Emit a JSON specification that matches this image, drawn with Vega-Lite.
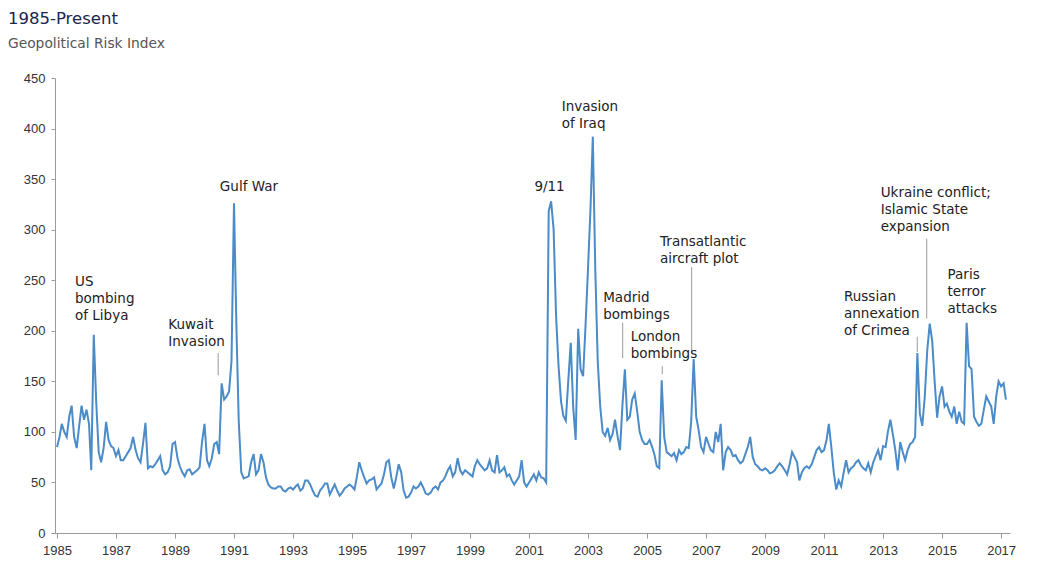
{
  "$schema": "https://vega.github.io/schema/vega-lite/v6.json",
  "width": 955,
  "height": 455,
  "autosize": {"type": "none"},
  "padding": {"left": 55, "top": 78, "right": 28, "bottom": 32},
  "background": "white",
  "title": {
    "text": "1985-Present",
    "subtitle": "Geopolitical Risk Index",
    "anchor": "start",
    "frame": "group",
    "dx": -47,
    "offset": 21,
    "font": "DejaVu Sans",
    "fontSize": 16.5,
    "fontWeight": "normal",
    "color": "#1a2550",
    "subtitleFont": "DejaVu Sans",
    "subtitleFontSize": 13.8,
    "subtitleColor": "#555555",
    "subtitlePadding": 10
  },
  "config": {
    "view": {"stroke": null},
    "axis": {
      "labelFont": "Liberation Sans Narrow, Liberation Sans",
      "labelFontSize": 13,
      "labelColor": "#333333",
      "domainColor": "#9a9a9a",
      "tickColor": "#9a9a9a",
      "grid": false,
      "title": null
    }
  },
  "datasets": {
    "gpr": [
      {"date":"1985-01-01","gpr":85},{"date":"1985-02-01","gpr":95},{"date":"1985-03-01","gpr":108},{"date":"1985-04-01","gpr":100},{"date":"1985-05-01","gpr":95},{"date":"1985-06-01","gpr":115},{"date":"1985-07-01","gpr":126},{"date":"1985-08-01","gpr":95},{"date":"1985-09-01","gpr":84},{"date":"1985-10-01","gpr":105},{"date":"1985-11-01","gpr":126},{"date":"1985-12-01","gpr":112},
      {"date":"1986-01-01","gpr":122},{"date":"1986-02-01","gpr":108},{"date":"1986-03-01","gpr":62},{"date":"1986-04-01","gpr":196},{"date":"1986-05-01","gpr":130},{"date":"1986-06-01","gpr":80},{"date":"1986-07-01","gpr":70},{"date":"1986-08-01","gpr":84},{"date":"1986-09-01","gpr":110},{"date":"1986-10-01","gpr":92},{"date":"1986-11-01","gpr":86},{"date":"1986-12-01","gpr":84},
      {"date":"1987-01-01","gpr":76},{"date":"1987-02-01","gpr":82},{"date":"1987-03-01","gpr":72},{"date":"1987-04-01","gpr":72},{"date":"1987-05-01","gpr":76},{"date":"1987-06-01","gpr":80},{"date":"1987-07-01","gpr":84},{"date":"1987-08-01","gpr":95},{"date":"1987-09-01","gpr":82},{"date":"1987-10-01","gpr":74},{"date":"1987-11-01","gpr":70},{"date":"1987-12-01","gpr":88},
      {"date":"1988-01-01","gpr":109},{"date":"1988-02-01","gpr":64},{"date":"1988-03-01","gpr":66},{"date":"1988-04-01","gpr":65},{"date":"1988-05-01","gpr":68},{"date":"1988-06-01","gpr":72},{"date":"1988-07-01","gpr":76},{"date":"1988-08-01","gpr":62},{"date":"1988-09-01","gpr":58},{"date":"1988-10-01","gpr":60},{"date":"1988-11-01","gpr":66},{"date":"1988-12-01","gpr":88},
      {"date":"1989-01-01","gpr":90},{"date":"1989-02-01","gpr":74},{"date":"1989-03-01","gpr":66},{"date":"1989-04-01","gpr":60},{"date":"1989-05-01","gpr":56},{"date":"1989-06-01","gpr":62},{"date":"1989-07-01","gpr":63},{"date":"1989-08-01","gpr":58},{"date":"1989-09-01","gpr":60},{"date":"1989-10-01","gpr":62},{"date":"1989-11-01","gpr":65},{"date":"1989-12-01","gpr":90},
      {"date":"1990-01-01","gpr":108},{"date":"1990-02-01","gpr":72},{"date":"1990-03-01","gpr":66},{"date":"1990-04-01","gpr":74},{"date":"1990-05-01","gpr":88},{"date":"1990-06-01","gpr":90},{"date":"1990-07-01","gpr":78},{"date":"1990-08-01","gpr":148},{"date":"1990-09-01","gpr":132},{"date":"1990-10-01","gpr":135},{"date":"1990-11-01","gpr":140},{"date":"1990-12-01","gpr":170},
      {"date":"1991-01-01","gpr":326},{"date":"1991-02-01","gpr":200},{"date":"1991-03-01","gpr":110},{"date":"1991-04-01","gpr":60},{"date":"1991-05-01","gpr":54},{"date":"1991-06-01","gpr":55},{"date":"1991-07-01","gpr":56},{"date":"1991-08-01","gpr":70},{"date":"1991-09-01","gpr":78},{"date":"1991-10-01","gpr":58},{"date":"1991-11-01","gpr":62},{"date":"1991-12-01","gpr":78},
      {"date":"1992-01-01","gpr":70},{"date":"1992-02-01","gpr":55},{"date":"1992-03-01","gpr":48},{"date":"1992-04-01","gpr":45},{"date":"1992-05-01","gpr":44},{"date":"1992-06-01","gpr":44},{"date":"1992-07-01","gpr":46},{"date":"1992-08-01","gpr":46},{"date":"1992-09-01","gpr":42},{"date":"1992-10-01","gpr":41},{"date":"1992-11-01","gpr":44},{"date":"1992-12-01","gpr":45},
      {"date":"1993-01-01","gpr":43},{"date":"1993-02-01","gpr":46},{"date":"1993-03-01","gpr":48},{"date":"1993-04-01","gpr":42},{"date":"1993-05-01","gpr":44},{"date":"1993-06-01","gpr":52},{"date":"1993-07-01","gpr":52},{"date":"1993-08-01","gpr":48},{"date":"1993-09-01","gpr":42},{"date":"1993-10-01","gpr":37},{"date":"1993-11-01","gpr":36},{"date":"1993-12-01","gpr":42},
      {"date":"1994-01-01","gpr":45},{"date":"1994-02-01","gpr":49},{"date":"1994-03-01","gpr":49},{"date":"1994-04-01","gpr":38},{"date":"1994-05-01","gpr":43},{"date":"1994-06-01","gpr":48},{"date":"1994-07-01","gpr":42},{"date":"1994-08-01","gpr":37},{"date":"1994-09-01","gpr":40},{"date":"1994-10-01","gpr":44},{"date":"1994-11-01","gpr":46},{"date":"1994-12-01","gpr":48},
      {"date":"1995-01-01","gpr":46},{"date":"1995-02-01","gpr":43},{"date":"1995-03-01","gpr":55},{"date":"1995-04-01","gpr":70},{"date":"1995-05-01","gpr":62},{"date":"1995-06-01","gpr":55},{"date":"1995-07-01","gpr":49},{"date":"1995-08-01","gpr":52},{"date":"1995-09-01","gpr":53},{"date":"1995-10-01","gpr":55},{"date":"1995-11-01","gpr":43},{"date":"1995-12-01","gpr":46},
      {"date":"1996-01-01","gpr":49},{"date":"1996-02-01","gpr":58},{"date":"1996-03-01","gpr":70},{"date":"1996-04-01","gpr":72},{"date":"1996-05-01","gpr":55},{"date":"1996-06-01","gpr":44},{"date":"1996-07-01","gpr":55},{"date":"1996-08-01","gpr":68},{"date":"1996-09-01","gpr":60},{"date":"1996-10-01","gpr":42},{"date":"1996-11-01","gpr":35},{"date":"1996-12-01","gpr":36},
      {"date":"1997-01-01","gpr":40},{"date":"1997-02-01","gpr":46},{"date":"1997-03-01","gpr":44},{"date":"1997-04-01","gpr":46},{"date":"1997-05-01","gpr":50},{"date":"1997-06-01","gpr":45},{"date":"1997-07-01","gpr":39},{"date":"1997-08-01","gpr":38},{"date":"1997-09-01","gpr":40},{"date":"1997-10-01","gpr":44},{"date":"1997-11-01","gpr":46},{"date":"1997-12-01","gpr":43},
      {"date":"1998-01-01","gpr":50},{"date":"1998-02-01","gpr":52},{"date":"1998-03-01","gpr":56},{"date":"1998-04-01","gpr":62},{"date":"1998-05-01","gpr":66},{"date":"1998-06-01","gpr":56},{"date":"1998-07-01","gpr":60},{"date":"1998-08-01","gpr":74},{"date":"1998-09-01","gpr":62},{"date":"1998-10-01","gpr":58},{"date":"1998-11-01","gpr":62},{"date":"1998-12-01","gpr":60},
      {"date":"1999-01-01","gpr":58},{"date":"1999-02-01","gpr":56},{"date":"1999-03-01","gpr":66},{"date":"1999-04-01","gpr":72},{"date":"1999-05-01","gpr":68},{"date":"1999-06-01","gpr":65},{"date":"1999-07-01","gpr":62},{"date":"1999-08-01","gpr":64},{"date":"1999-09-01","gpr":72},{"date":"1999-10-01","gpr":62},{"date":"1999-11-01","gpr":60},{"date":"1999-12-01","gpr":77},
      {"date":"2000-01-01","gpr":60},{"date":"2000-02-01","gpr":62},{"date":"2000-03-01","gpr":65},{"date":"2000-04-01","gpr":56},{"date":"2000-05-01","gpr":58},{"date":"2000-06-01","gpr":52},{"date":"2000-07-01","gpr":48},{"date":"2000-08-01","gpr":52},{"date":"2000-09-01","gpr":56},{"date":"2000-10-01","gpr":72},{"date":"2000-11-01","gpr":50},{"date":"2000-12-01","gpr":46},
      {"date":"2001-01-01","gpr":50},{"date":"2001-02-01","gpr":54},{"date":"2001-03-01","gpr":58},{"date":"2001-04-01","gpr":52},{"date":"2001-05-01","gpr":60},{"date":"2001-06-01","gpr":55},{"date":"2001-07-01","gpr":54},{"date":"2001-08-01","gpr":50},{"date":"2001-09-01","gpr":318},{"date":"2001-10-01","gpr":328},{"date":"2001-11-01","gpr":300},{"date":"2001-12-01","gpr":215},
      {"date":"2002-01-01","gpr":165},{"date":"2002-02-01","gpr":130},{"date":"2002-03-01","gpr":116},{"date":"2002-04-01","gpr":111},{"date":"2002-05-01","gpr":150},{"date":"2002-06-01","gpr":188},{"date":"2002-07-01","gpr":125},{"date":"2002-08-01","gpr":92},{"date":"2002-09-01","gpr":202},{"date":"2002-10-01","gpr":162},{"date":"2002-11-01","gpr":155},{"date":"2002-12-01","gpr":205},
      {"date":"2003-01-01","gpr":262},{"date":"2003-02-01","gpr":322},{"date":"2003-03-01","gpr":392},{"date":"2003-04-01","gpr":260},{"date":"2003-05-01","gpr":170},{"date":"2003-06-01","gpr":125},{"date":"2003-07-01","gpr":100},{"date":"2003-08-01","gpr":96},{"date":"2003-09-01","gpr":104},{"date":"2003-10-01","gpr":92},{"date":"2003-11-01","gpr":98},{"date":"2003-12-01","gpr":112},
      {"date":"2004-01-01","gpr":96},{"date":"2004-02-01","gpr":82},{"date":"2004-03-01","gpr":125},{"date":"2004-04-01","gpr":162},{"date":"2004-05-01","gpr":112},{"date":"2004-06-01","gpr":115},{"date":"2004-07-01","gpr":132},{"date":"2004-08-01","gpr":138},{"date":"2004-09-01","gpr":120},{"date":"2004-10-01","gpr":100},{"date":"2004-11-01","gpr":92},{"date":"2004-12-01","gpr":88},
      {"date":"2005-01-01","gpr":88},{"date":"2005-02-01","gpr":92},{"date":"2005-03-01","gpr":86},{"date":"2005-04-01","gpr":78},{"date":"2005-05-01","gpr":66},{"date":"2005-06-01","gpr":64},{"date":"2005-07-01","gpr":151},{"date":"2005-08-01","gpr":95},{"date":"2005-09-01","gpr":80},{"date":"2005-10-01","gpr":78},{"date":"2005-11-01","gpr":76},{"date":"2005-12-01","gpr":79},
      {"date":"2006-01-01","gpr":72},{"date":"2006-02-01","gpr":82},{"date":"2006-03-01","gpr":78},{"date":"2006-04-01","gpr":80},{"date":"2006-05-01","gpr":85},{"date":"2006-06-01","gpr":84},{"date":"2006-07-01","gpr":110},{"date":"2006-08-01","gpr":172},{"date":"2006-09-01","gpr":115},{"date":"2006-10-01","gpr":102},{"date":"2006-11-01","gpr":85},{"date":"2006-12-01","gpr":80},
      {"date":"2007-01-01","gpr":95},{"date":"2007-02-01","gpr":88},{"date":"2007-03-01","gpr":82},{"date":"2007-04-01","gpr":80},{"date":"2007-05-01","gpr":100},{"date":"2007-06-01","gpr":90},{"date":"2007-07-01","gpr":108},{"date":"2007-08-01","gpr":62},{"date":"2007-09-01","gpr":80},{"date":"2007-10-01","gpr":85},{"date":"2007-11-01","gpr":82},{"date":"2007-12-01","gpr":76},
      {"date":"2008-01-01","gpr":77},{"date":"2008-02-01","gpr":72},{"date":"2008-03-01","gpr":69},{"date":"2008-04-01","gpr":71},{"date":"2008-05-01","gpr":78},{"date":"2008-06-01","gpr":85},{"date":"2008-07-01","gpr":95},{"date":"2008-08-01","gpr":75},{"date":"2008-09-01","gpr":68},{"date":"2008-10-01","gpr":66},{"date":"2008-11-01","gpr":63},{"date":"2008-12-01","gpr":62},
      {"date":"2009-01-01","gpr":64},{"date":"2009-02-01","gpr":62},{"date":"2009-03-01","gpr":59},{"date":"2009-04-01","gpr":60},{"date":"2009-05-01","gpr":62},{"date":"2009-06-01","gpr":66},{"date":"2009-07-01","gpr":69},{"date":"2009-08-01","gpr":66},{"date":"2009-09-01","gpr":62},{"date":"2009-10-01","gpr":58},{"date":"2009-11-01","gpr":68},{"date":"2009-12-01","gpr":80},
      {"date":"2010-01-01","gpr":75},{"date":"2010-02-01","gpr":70},{"date":"2010-03-01","gpr":52},{"date":"2010-04-01","gpr":60},{"date":"2010-05-01","gpr":64},{"date":"2010-06-01","gpr":66},{"date":"2010-07-01","gpr":64},{"date":"2010-08-01","gpr":68},{"date":"2010-09-01","gpr":75},{"date":"2010-10-01","gpr":82},{"date":"2010-11-01","gpr":85},{"date":"2010-12-01","gpr":80},
      {"date":"2011-01-01","gpr":82},{"date":"2011-02-01","gpr":92},{"date":"2011-03-01","gpr":108},{"date":"2011-04-01","gpr":85},{"date":"2011-05-01","gpr":60},{"date":"2011-06-01","gpr":43},{"date":"2011-07-01","gpr":52},{"date":"2011-08-01","gpr":46},{"date":"2011-09-01","gpr":60},{"date":"2011-10-01","gpr":72},{"date":"2011-11-01","gpr":60},{"date":"2011-12-01","gpr":64},
      {"date":"2012-01-01","gpr":66},{"date":"2012-02-01","gpr":70},{"date":"2012-03-01","gpr":72},{"date":"2012-04-01","gpr":67},{"date":"2012-05-01","gpr":64},{"date":"2012-06-01","gpr":62},{"date":"2012-07-01","gpr":69},{"date":"2012-08-01","gpr":60},{"date":"2012-09-01","gpr":70},{"date":"2012-10-01","gpr":76},{"date":"2012-11-01","gpr":82},{"date":"2012-12-01","gpr":72},
      {"date":"2013-01-01","gpr":86},{"date":"2013-02-01","gpr":85},{"date":"2013-03-01","gpr":100},{"date":"2013-04-01","gpr":112},{"date":"2013-05-01","gpr":98},{"date":"2013-06-01","gpr":82},{"date":"2013-07-01","gpr":62},{"date":"2013-08-01","gpr":90},{"date":"2013-09-01","gpr":80},{"date":"2013-10-01","gpr":72},{"date":"2013-11-01","gpr":82},{"date":"2013-12-01","gpr":88},
      {"date":"2014-01-01","gpr":90},{"date":"2014-02-01","gpr":95},{"date":"2014-03-01","gpr":178},{"date":"2014-04-01","gpr":118},{"date":"2014-05-01","gpr":106},{"date":"2014-06-01","gpr":135},{"date":"2014-07-01","gpr":180},{"date":"2014-08-01","gpr":207},{"date":"2014-09-01","gpr":190},{"date":"2014-10-01","gpr":150},{"date":"2014-11-01","gpr":114},{"date":"2014-12-01","gpr":135},
      {"date":"2015-01-01","gpr":145},{"date":"2015-02-01","gpr":125},{"date":"2015-03-01","gpr":128},{"date":"2015-04-01","gpr":120},{"date":"2015-05-01","gpr":115},{"date":"2015-06-01","gpr":125},{"date":"2015-07-01","gpr":108},{"date":"2015-08-01","gpr":120},{"date":"2015-09-01","gpr":110},{"date":"2015-10-01","gpr":108},{"date":"2015-11-01","gpr":208},{"date":"2015-12-01","gpr":165},
      {"date":"2016-01-01","gpr":162},{"date":"2016-02-01","gpr":115},{"date":"2016-03-01","gpr":110},{"date":"2016-04-01","gpr":106},{"date":"2016-05-01","gpr":108},{"date":"2016-06-01","gpr":122},{"date":"2016-07-01","gpr":135},{"date":"2016-08-01","gpr":130},{"date":"2016-09-01","gpr":125},{"date":"2016-10-01","gpr":108},{"date":"2016-11-01","gpr":135},{"date":"2016-12-01","gpr":150},
      {"date":"2017-01-01","gpr":145},{"date":"2017-02-01","gpr":148},{"date":"2017-03-01","gpr":132}
    ],
    "leaders": [
      {"date":"1990-06-19","y1":178,"y2":156},
      {"date":"2004-03-05","y1":208,"y2":173},
      {"date":"2005-07-08","y1":165,"y2":157},
      {"date":"2006-07-07","y1":263,"y2":178},
      {"date":"2014-02-28","y1":194,"y2":179},
      {"date":"2014-06-25","y1":291,"y2":212}
    ],
    "notes": [
      {"date":"1985-08-12","y":255,"label":"US|bombing|of Libya"},
      {"date":"1988-10-10","y":213,"label":"Kuwait|Invasion"},
      {"date":"1990-07-10","y":349,"label":"Gulf War"},
      {"date":"2001-03-08","y":349,"label":"9/11"},
      {"date":"2002-02-10","y":428,"label":"Invasion|of Iraq"},
      {"date":"2003-07-08","y":239,"label":"Madrid|bombings"},
      {"date":"2004-06-13","y":201,"label":"London|bombings"},
      {"date":"2005-06-11","y":295,"label":"Transatlantic|aircraft plot"},
      {"date":"2011-09-05","y":240,"label":"Russian|annexation|of Crimea"},
      {"date":"2012-12-02","y":343,"label":"Ukraine conflict;|Islamic State|expansion"},
      {"date":"2015-03-10","y":262,"label":"Paris|terror|attacks"}
    ]
  },
  "layer": [
    {
      "data": {"name": "gpr"},
      "mark": {"type": "line", "color": "#4a8bc8", "strokeWidth": 2},
      "encoding": {
        "x": {
          "field": "date",
          "type": "temporal",
          "scale": {"domain": ["1984-12-07", "2017-04-21"]},
          "axis": {
            "values": [
              {"year":1985,"month":1,"date":1},{"year":1987,"month":1,"date":1},{"year":1989,"month":1,"date":1},{"year":1991,"month":1,"date":1},{"year":1993,"month":1,"date":1},{"year":1995,"month":1,"date":1},{"year":1997,"month":1,"date":1},{"year":1999,"month":1,"date":1},{"year":2001,"month":1,"date":1},{"year":2003,"month":1,"date":1},{"year":2005,"month":1,"date":1},{"year":2007,"month":1,"date":1},{"year":2009,"month":1,"date":1},{"year":2011,"month":1,"date":1},{"year":2013,"month":1,"date":1},{"year":2015,"month":1,"date":1},{"year":2017,"month":1,"date":1}
            ],
            "format": "%Y",
            "tickSize": 5,
            "labelPadding": 6,
            "labelFlush": false
          }
        },
        "y": {
          "field": "gpr",
          "type": "quantitative",
          "scale": {"domain": [0, 450], "nice": false},
          "axis": {
            "values": [0, 50, 100, 150, 200, 250, 300, 350, 400, 450],
            "tickSize": 4,
            "labelPadding": 6
          }
        }
      }
    },
    {
      "data": {"name": "leaders"},
      "mark": {"type": "rule", "color": "#9a9a9a", "strokeWidth": 1},
      "encoding": {
        "x": {"field": "date", "type": "temporal"},
        "y": {"field": "y1", "type": "quantitative"},
        "y2": {"field": "y2"}
      }
    },
    {
      "data": {"name": "notes"},
      "mark": {
        "type": "text",
        "align": "left",
        "baseline": "top",
        "font": "DejaVu Sans",
        "fontSize": 13.5,
        "lineHeight": 17,
        "lineBreak": "|",
        "color": "#222222"
      },
      "encoding": {
        "x": {"field": "date", "type": "temporal"},
        "y": {"field": "y", "type": "quantitative"},
        "text": {"field": "label", "type": "nominal"}
      }
    }
  ]
}
